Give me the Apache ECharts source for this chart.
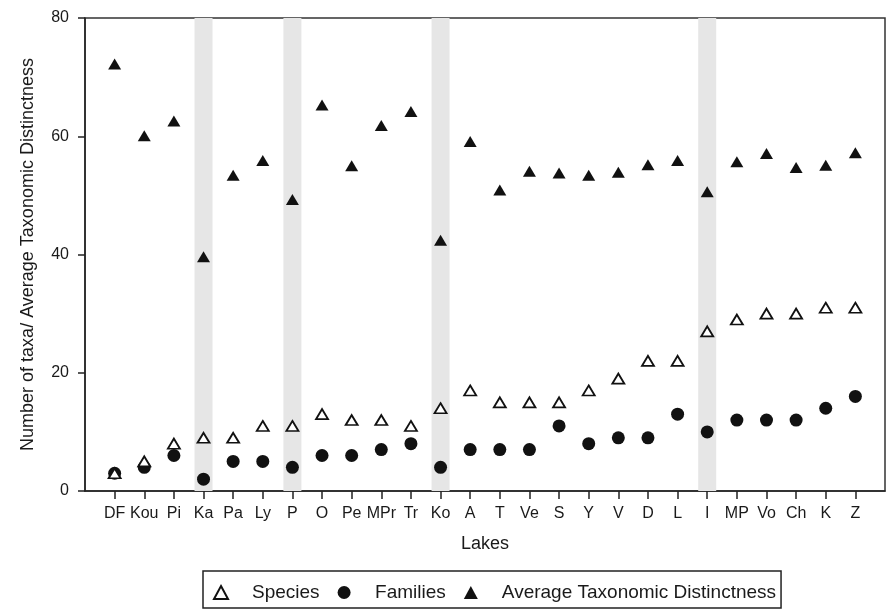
<!DOCTYPE html>
<html>
<head>
<meta charset="utf-8">
<script src="https://cdn.jsdelivr.net/npm/echarts@6/dist/echarts.min.js"></script>
<style>
html,body{margin:0;padding:0;background:#fff;}
#chart{width:887px;height:609px;}
</style>
</head>
<body>
<div id="chart"></div>
<script>
var lakes = ['DF','Kou','Pi','Ka','Pa','Ly','P','O','Pe','MPr','Tr','Ko','A','T','Ve','S','Y','V','D','L','I','MP','Vo','Ch','K','Z'];
var species = [3,5,8,9,9,11,11,13,12,12,11,14,17,15,15,15,17,19,22,22,27,29,30,30,31,31];
var families = [3,4,6,2,5,5,4,6,6,7,8,4,7,7,7,11,8,9,9,13,10,12,12,12,14,16];
var avgTD = [72.2,60.1,62.6,39.6,53.4,55.9,49.3,65.3,55.0,61.8,64.2,42.4,59.1,50.9,54.1,53.8,53.4,53.9,55.2,55.9,50.6,55.7,57.1,54.7,55.1,57.2];
var shadedLakes = ['Ka','P','Ko','I'];
var yTicks = [0,20,40,60,80];

var yMin = yTicks[0], yMax = yTicks[yTicks.length-1];
var paddedCats = [''].concat(lakes).concat(['']);
function pairs(vals){ return lakes.map(function(l,i){ return [l, vals[i]]; }); }

var font = "'Liberation Sans', Arial, sans-serif";
var ink = '#1a1a1a';

var chart = echarts.init(document.getElementById('chart'));
chart.setOption({
  animation: false,
  backgroundColor: '#fff',
  textStyle: { fontFamily: font, color: ink },
  grid: { left: 85, top: 18, width: 800, height: 473, show: true, borderColor: '#333', borderWidth: 1.5, backgroundColor: 'transparent', outerBoundsMode: 'none', containLabel: false },
  legend: {
    left: 203, top: 571,
    padding: [12, 5, 6, 10],
    borderColor: '#222', borderWidth: 1.5,
    itemWidth: 14, itemHeight: 13, itemGap: 18,
    data: ['Species','Families','Average Taxonomic Distinctness'],
    textStyle: { fontSize: 19, fontFamily: font, color: ink, padding: [0,0,0,19] }
  },
  xAxis: {
    type: 'category', data: paddedCats, boundaryGap: false,
    name: 'Lakes', nameLocation: 'middle', nameGap: 44,
    nameTextStyle: { fontSize: 18, color: ink, fontFamily: font },
    axisLine: { lineStyle: { color: '#222', width: 1.5 } },
    axisTick: { show: true, length: 8, inside: false, lineStyle: { color: '#222', width: 1.5 },
      interval: function(idx, val){ return val !== ''; } },
    axisLabel: { interval: 0, fontSize: 16, color: ink, margin: 15, fontFamily: font },
    splitLine: { show: false }
  },
  yAxis: {
    type: 'value', min: yMin, max: yMax, interval: 20,
    name: 'Number of taxa/ Average Taxonomic Distinctness', nameLocation: 'middle', nameGap: 48,
    nameTextStyle: { fontSize: 18, color: ink, fontFamily: font },
    axisLine: { show: true, lineStyle: { color: '#222', width: 1.5 } },
    axisTick: { show: true, length: 7, lineStyle: { color: '#222', width: 1.5 } },
    axisLabel: { fontSize: 16, color: ink, margin: 16, fontFamily: font },
    splitLine: { show: false }
  },
  series: [
    {
      name: 'bands', type: 'bar', barWidth: 18, silent: true, z: 1,
      data: shadedLakes.map(function(l){ return [l, yMax]; }),
      itemStyle: { color: '#e6e6e6' }
    },
    {
      name: 'Average Taxonomic Distinctness', type: 'scatter', symbol: 'triangle', symbolSize: [13,11], z: 3,
      data: pairs(avgTD),
      itemStyle: { color: '#111', opacity: 1 }
    },
    {
      name: 'Families', type: 'scatter', symbol: 'circle', symbolSize: 13, z: 3,
      data: pairs(families),
      itemStyle: { color: '#111', opacity: 1 }
    },
    {
      name: 'Species', type: 'scatter', symbol: 'triangle', symbolSize: [12,10], z: 4,
      data: pairs(species),
      itemStyle: { color: '#fff', borderColor: '#111', borderWidth: 1.8, opacity: 1 }
    }
  ]
});
</script>
</body>
</html>
